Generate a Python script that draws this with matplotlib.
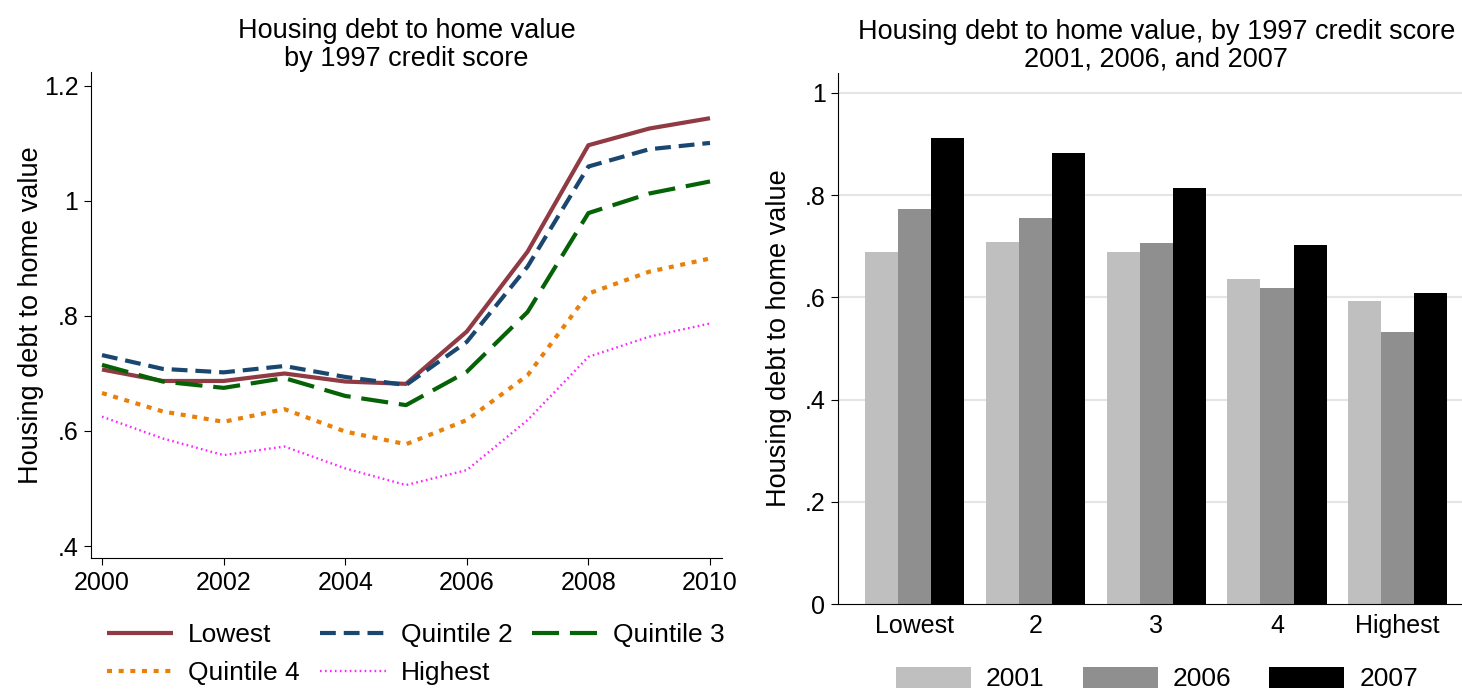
import numpy as np
import matplotlib
matplotlib.use("Agg")
import matplotlib.pyplot as plt

plt.rcParams['font.family'] = ['Liberation Sans', 'DejaVu Sans']

# Left panel: debt-to-value by year and 1997 credit-score quintile
years = np.arange(2000, 2011)
lowest = [0.707, 0.687, 0.687, 0.700, 0.686, 0.682, 0.773, 0.912, 1.097, 1.126, 1.144]
quint2 = [0.732, 0.708, 0.702, 0.713, 0.694, 0.680, 0.755, 0.886, 1.060, 1.090, 1.101]
quint3 = [0.715, 0.686, 0.675, 0.692, 0.661, 0.645, 0.703, 0.807, 0.979, 1.013, 1.034]
quint4 = [0.666, 0.634, 0.616, 0.638, 0.599, 0.577, 0.619, 0.697, 0.839, 0.877, 0.900]
highest = [0.625, 0.587, 0.558, 0.573, 0.535, 0.506, 0.532, 0.619, 0.729, 0.764, 0.787]

# Right panel: bars by quintile for three years
groups = ['Lowest', '2', '3', '4', 'Highest']
bar_years = ['2001', '2006', '2007']
v2001 = [0.688, 0.709, 0.688, 0.636, 0.592]
v2006 = [0.773, 0.755, 0.706, 0.618, 0.532]
v2007 = [0.912, 0.883, 0.815, 0.702, 0.609]

W, H = 1462, 689
fig = plt.figure(figsize=(W / 100, H / 100), dpi=100)


def px_axes(l, r, t, b):
    return fig.add_axes([l / W, 1 - b / H, (r - l) / W, (b - t) / H])


TICK_FS = 18
LAB_FS = 19.5
TITLE_FS = 19.5
LEG_FS = 19

# ---- left: lines
ax1 = px_axes(91, 722, 72, 558)
ax1.plot(years, lowest, color='#903A44', lw=3, solid_capstyle='butt', label='Lowest')
ax1.plot(years, quint2, color='#1A476F', lw=3, dashes=(3.8, 1.9), label='Quintile 2')
ax1.plot(years, quint3, color='#066206', lw=3, dashes=(6.5, 2.6), label='Quintile 3')
ax1.plot(years, quint4, color='#E8800A', lw=3, dashes=(1.2, 1.6), label='Quintile 4')
ax1.plot(years, highest, color='#FF22FF', lw=1.7, dashes=(0.7, 1.4), label='Highest')

ax1.set_xlim(2000 - 11 / 60.8, 2010 + 12 / 60.8)
ax1.set_ylim(0.4 - 12 / 575, 1.2 + 14 / 575)
ax1.set_xticks([2000, 2002, 2004, 2006, 2008, 2010])
ax1.set_yticks([0.4, 0.6, 0.8, 1.0, 1.2])
ax1.set_yticklabels(['.4', '.6', '.8', '1', '1.2'])
ax1.tick_params(labelsize=TICK_FS, length=5, width=0.8, pad=4)
for s in ['top', 'right']:
    ax1.spines[s].set_visible(False)
ax1.set_ylabel('Housing debt to home value', fontsize=LAB_FS)
ax1.yaxis.set_label_coords(-0.0745, 0.5)
ax1.set_title('Housing debt to home value\nby 1997 credit score', fontsize=TITLE_FS,
              linespacing=1.08, pad=3.5)

h, l = ax1.get_legend_handles_labels()
order = [0, 3, 1, 4, 2]
fig.legend([h[i] for i in order], [l[i] for i in order], ncol=3, frameon=False,
           fontsize=LEG_FS, loc='center', bbox_to_anchor=(416 / W, 1 - 654 / H),
           handlelength=2.5, handletextpad=0.57, columnspacing=0.75,
           labelspacing=0.53, borderpad=0, borderaxespad=0)

# ---- right: bars
ax2 = px_axes(838, 1474.5, 73, 604)
x = np.arange(len(groups))
w = 0.2745
ax2.bar(x - w, v2001, w, color='#BFBFBF', label=bar_years[0], zorder=2)
ax2.bar(x, v2006, w, color='#8F8F8F', label=bar_years[1], zorder=2)
ax2.bar(x + w, v2007, w, color='#000000', label=bar_years[2], zorder=2)
ax2.set_xlim(-0.636, 4.636)
ax2.set_ylim(0, 1 + 20 / 511)
ax2.set_xticks(x)
ax2.set_xticklabels(groups)
ax2.set_yticks([0, 0.2, 0.4, 0.6, 0.8, 1.0])
ax2.set_yticklabels(['0', '.2', '.4', '.6', '.8', '1'])
ax2.tick_params(axis='y', labelsize=TICK_FS, length=5, width=0.8, pad=4)
ax2.tick_params(axis='x', labelsize=TICK_FS, length=0, pad=7)
for yv in [0.2, 0.4, 0.6, 0.8, 1.0]:
    ax2.axhline(yv, color='#E5E5E5', lw=1.5, zorder=1)
for s in ['top', 'right']:
    ax2.spines[s].set_visible(False)
ax2.set_ylabel('Housing debt to home value', fontsize=LAB_FS)
ax2.yaxis.set_label_coords(-0.072, 0.5)
ax2.set_title('Housing debt to home value, by 1997 credit score\n2001, 2006, and 2007',
              fontsize=TITLE_FS, linespacing=1.08, pad=3.5)

fig.legend(*ax2.get_legend_handles_labels(), ncol=3, frameon=False, fontsize=LEG_FS,
           loc='center', bbox_to_anchor=(1157 / W, 1 - 679 / H),
           handlelength=2.84, handleheight=0.87, handletextpad=0.57,
           columnspacing=1.44, borderpad=0, borderaxespad=0)

fig.savefig('out.png', dpi=100)
